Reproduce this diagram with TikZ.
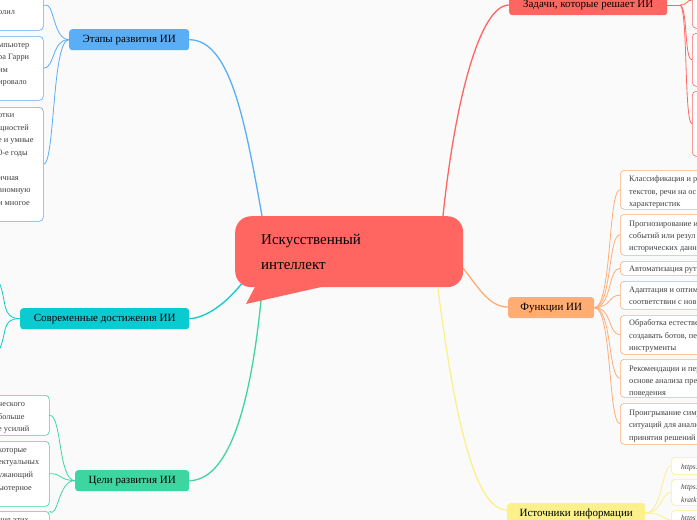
\documentclass[tikz,border=0pt]{standalone}
\usepackage{fontspec}
\setmainfont{Liberation Serif}
\begin{document}
\begin{tikzpicture}[x=1pt,y=-1pt,
  br/.style={rounded corners=3,minimum height=21,inner sep=0,font=\fontsize{11}{12}\selectfont,anchor=north west},
  lf/.style={draw=#1,line width=0.6,rounded corners=4,fill=white,inner sep=0,anchor=north west},
  tx/.style={anchor=base west,inner sep=0,font=\fontsize{8.3}{10}\selectfont,text=black!75},
  cn/.style={draw=#1,line width=1.3},
  tn/.style={draw=#1,line width=0.8}]
\definecolor{cblue}{HTML}{5AAEF6}
\definecolor{ccyan}{HTML}{0ACCD0}
\definecolor{cgreen}{HTML}{3DD6A0}
\definecolor{cred}{HTML}{FF6661}
\definecolor{corange}{HTML}{FFAD75}
\definecolor{cyel}{HTML}{FBF08A}
\clip (0,0) rectangle (697,520);
\fill[white!98!black] (0,0) rectangle (697,520);
% connectors from centre
\coordinate (cE) at (262,216);
\coordinate (cZ) at (443,216);
\coordinate (cS) at (243,282);
\coordinate (cG) at (262,290);
\coordinate (cF) at (463,268);
\coordinate (cI) at (438,289);
\node[br,fill=cblue,minimum width=120] (et) at (69,29) {Этапы развития ИИ};
\node[br,fill=ccyan,minimum width=169] (sd) at (20,308) {Современные достижения ИИ};
\node[br,fill=cgreen,minimum width=114] (cl) at (75,470) {Цели развития ИИ};
\node[br,fill=cred,minimum width=158] (zd) at (509,-6) {Задачи, которые решает ИИ};
\node[br,fill=corange,minimum width=86] (fn) at (508,297) {Функции ИИ};
\node[br,fill=cyel,minimum width=138] (ist) at (507,503) {Источники информации};
\draw[cn=cblue] (cE) .. controls (245,120) and (230,40) .. (et.east);
\draw[cn=ccyan] (cS) .. controls (225,305) and (205,318) .. (sd.east);
\draw[cn=cgreen] (cG) .. controls (250,420) and (225,480) .. (cl.east);
\draw[cn=cred] (cZ) .. controls (455,100) and (480,5) .. (zd.west|-0,5);
\draw[cn=corange] (cF) .. controls (480,290) and (490,307) .. (fn.west|-0,307);
\draw[cn=cyel] (cI) .. controls (455,420) and (475,510) .. (ist.west|-0,510);
% centre bubble
\fill[cred] (256,285) -- (246,304) -- (330,285) -- cycle;
\node[fill=cred,rounded corners=16,minimum width=228,minimum height=71,inner sep=0,anchor=north west] (c) at (235,216) {};
\node[anchor=base west,inner sep=0,font=\fontsize{15}{16}\selectfont] (c1) at (261,244) {Искусственный};
\node[anchor=base west,inner sep=0,font=\fontsize{15}{16}\selectfont] (c2) at (261,269) {интеллект};
% Этапы leaves
\node[lf=cblue,minimum width=60,minimum height=50] (e1) at (-17,-20) {};
\node[lf=cblue,minimum width=60,minimum height=64] (e2) at (-17,36) {};
\node[lf=cblue,minimum width=60,minimum height=114] (e3) at (-17,107) {};
\draw[tn=cblue] (et.west) .. controls (52,39) and (55,0) .. (e1.east);
\draw[tn=cblue] (et.west) .. controls (52,39) and (55,68) .. (e2.east);
\draw[tn=cblue] (et.west) .. controls (52,39) and (55,164) .. (e3.east);
\node[tx] (t1) at (-2,14) {олил};
\node[tx] (t2) at (-2,47) {мпьютер};
\node[tx] (t3) at (-2,59) {ра Гарри};
\node[tx] (t4) at (-2,72) {им};
\node[tx] (t5) at (-2,84) {ировало};
\node[tx] (t6) at (-2,117) {отки};
\node[tx] (t7) at (-2,130) {щностей};
\node[tx] (t8) at (-2,142) {е и умные};
\node[tx] (t9) at (-2,155) {0-е годы};
\node[tx] (t10) at (-2,180) {ичная};
\node[tx] (t11) at (-2,192) {вномную};
\node[tx] (t12) at (-2,205) {и многое};
% Современные leaves
\coordinate (s1) at (-2,280);
\coordinate (s2) at (-2,352);
\draw[tn=ccyan] (sd.west) .. controls (0,318) and (8,300) .. (s1);
\draw[tn=ccyan] (sd.west) .. controls (0,318) and (8,335) .. (s2);
% Цели leaves
\node[lf=cgreen,minimum width=66,minimum height=40] (g1) at (-17,395) {};
\node[lf=cgreen,minimum width=66,minimum height=65] (g2) at (-17,441) {};
\node[lf=cgreen,minimum width=66,minimum height=40] (g3) at (-17,511) {};
\draw[tn=cgreen] (cl.west) .. controls (58,480) and (62,415) .. (g1.east);
\draw[tn=cgreen] (cl.west) .. controls (58,480) and (62,473) .. (g2.east);
\draw[tn=cgreen] (cl.west) .. controls (58,480) and (58,520) .. (g3.north east);
\node[tx] (u1) at (-2,406) {ческого};
\node[tx] (u2) at (-2,419) {больше};
\node[tx] (u3) at (-2,431) {е усилий};
\node[tx] (u4) at (-2,452) {которые};
\node[tx] (u5) at (-2,464) {ектуальных};
\node[tx] (u6) at (-2,477) {ужающий};
\node[tx] (u7) at (-2,490) {ьютерное};
\node[tx] (u8) at (-2,522) {ния этих};
% Задачи leaves
\node[lf=cred,minimum width=40,minimum height=50] (z1) at (692,-22) {};
\node[lf=cred,minimum width=40,minimum height=53] (z2) at (692,33) {};
\node[lf=cred,minimum width=40,minimum height=65] (z3) at (692,91) {};
\coordinate (zj) at (680,5);
\draw[tn=cred] (zd.east|-0,5) -- (zj);
\draw[tn=cred] (zj) .. controls (688,5) and (686,0) .. (692,0);
\draw[tn=cred] (zj) .. controls (688,8) and (684,59) .. (z2.west);
\draw[tn=cred] (zj) .. controls (688,8) and (684,123) .. (z3.west);
% Функции leaves
\coordinate (fj) at (fn.east);
\foreach \n/\a/\b in {f1/170/209,f2/214/255,f3/261/275,f4/281/309,f5/315/354,f6/359/397,f7/403/444}{
  \pgfmathsetmacro{\hh}{\b-\a}
  \pgfmathsetmacro{\mm}{(\a+\b)/2}
  \node[lf=corange,minimum width=90,minimum height=\hh] (\n) at (620,\a) {};
  \draw[tn=corange] (fj) .. controls (612,307) and (608,\mm) .. (\n.west);}
\node[tx] (h1) at (629,181) {Классификация и р};
\node[tx] (h2) at (629,194) {текстов, речи на ос};
\node[tx] (h3) at (629,206) {характеристик};
\node[tx] (h4) at (629,226) {Прогнозирование и};
\node[tx] (h5) at (629,238) {событий или резул};
\node[tx] (h6) at (629,250) {исторических данн};
\node[tx] (h7) at (629,271) {Автоматизация рут};
\node[tx] (h8) at (629,292) {Адаптация и оптим};
\node[tx] (h9) at (629,304) {соответствии с нов};
\node[tx] (h10) at (629,325) {Обработка естестве};
\node[tx] (h11) at (629,338) {создавать ботов, пе};
\node[tx] (h12) at (629,350) {инструменты};
\node[tx] (h13) at (629,371) {Рекомендации и пер};
\node[tx] (h14) at (629,383) {основе анализа пре};
\node[tx] (h15) at (629,395) {поведения};
\node[tx] (h16) at (629,415) {Проигрывание симу};
\node[tx] (h17) at (629,427) {ситуаций для анали};
\node[tx] (h18) at (629,440) {принятия решений};
% Источники leaves
\node[lf=cyel,minimum width=40,minimum height=17] (i1) at (671,457) {};
\node[lf=cyel,minimum width=40,minimum height=26] (i2) at (671,479) {};
\node[lf=cyel,minimum width=40,minimum height=20] (i3) at (671,510) {};
\coordinate (ij) at (ist.east|-0,513);
\draw[tn=cyel] (ij) .. controls (662,513) and (662,466) .. (i1.west);
\draw[tn=cyel] (ij) .. controls (662,513) and (662,492) .. (i2.west);
\draw[tn=cyel] (ij) .. controls (662,513) and (662,518) .. (i3.west);
\node[tx,font=\fontsize{7.5}{9}\selectfont\itshape] (k1) at (681,469) {https:};
\node[tx,font=\fontsize{7.5}{9}\selectfont\itshape] (k2) at (681,489) {https:};
\node[tx,font=\fontsize{7.5}{9}\selectfont\itshape] (k3) at (681,502) {kratk};
\node[tx,font=\fontsize{7.5}{9}\selectfont\itshape] (k4) at (681,520) {https};
\end{tikzpicture}
\end{document}
